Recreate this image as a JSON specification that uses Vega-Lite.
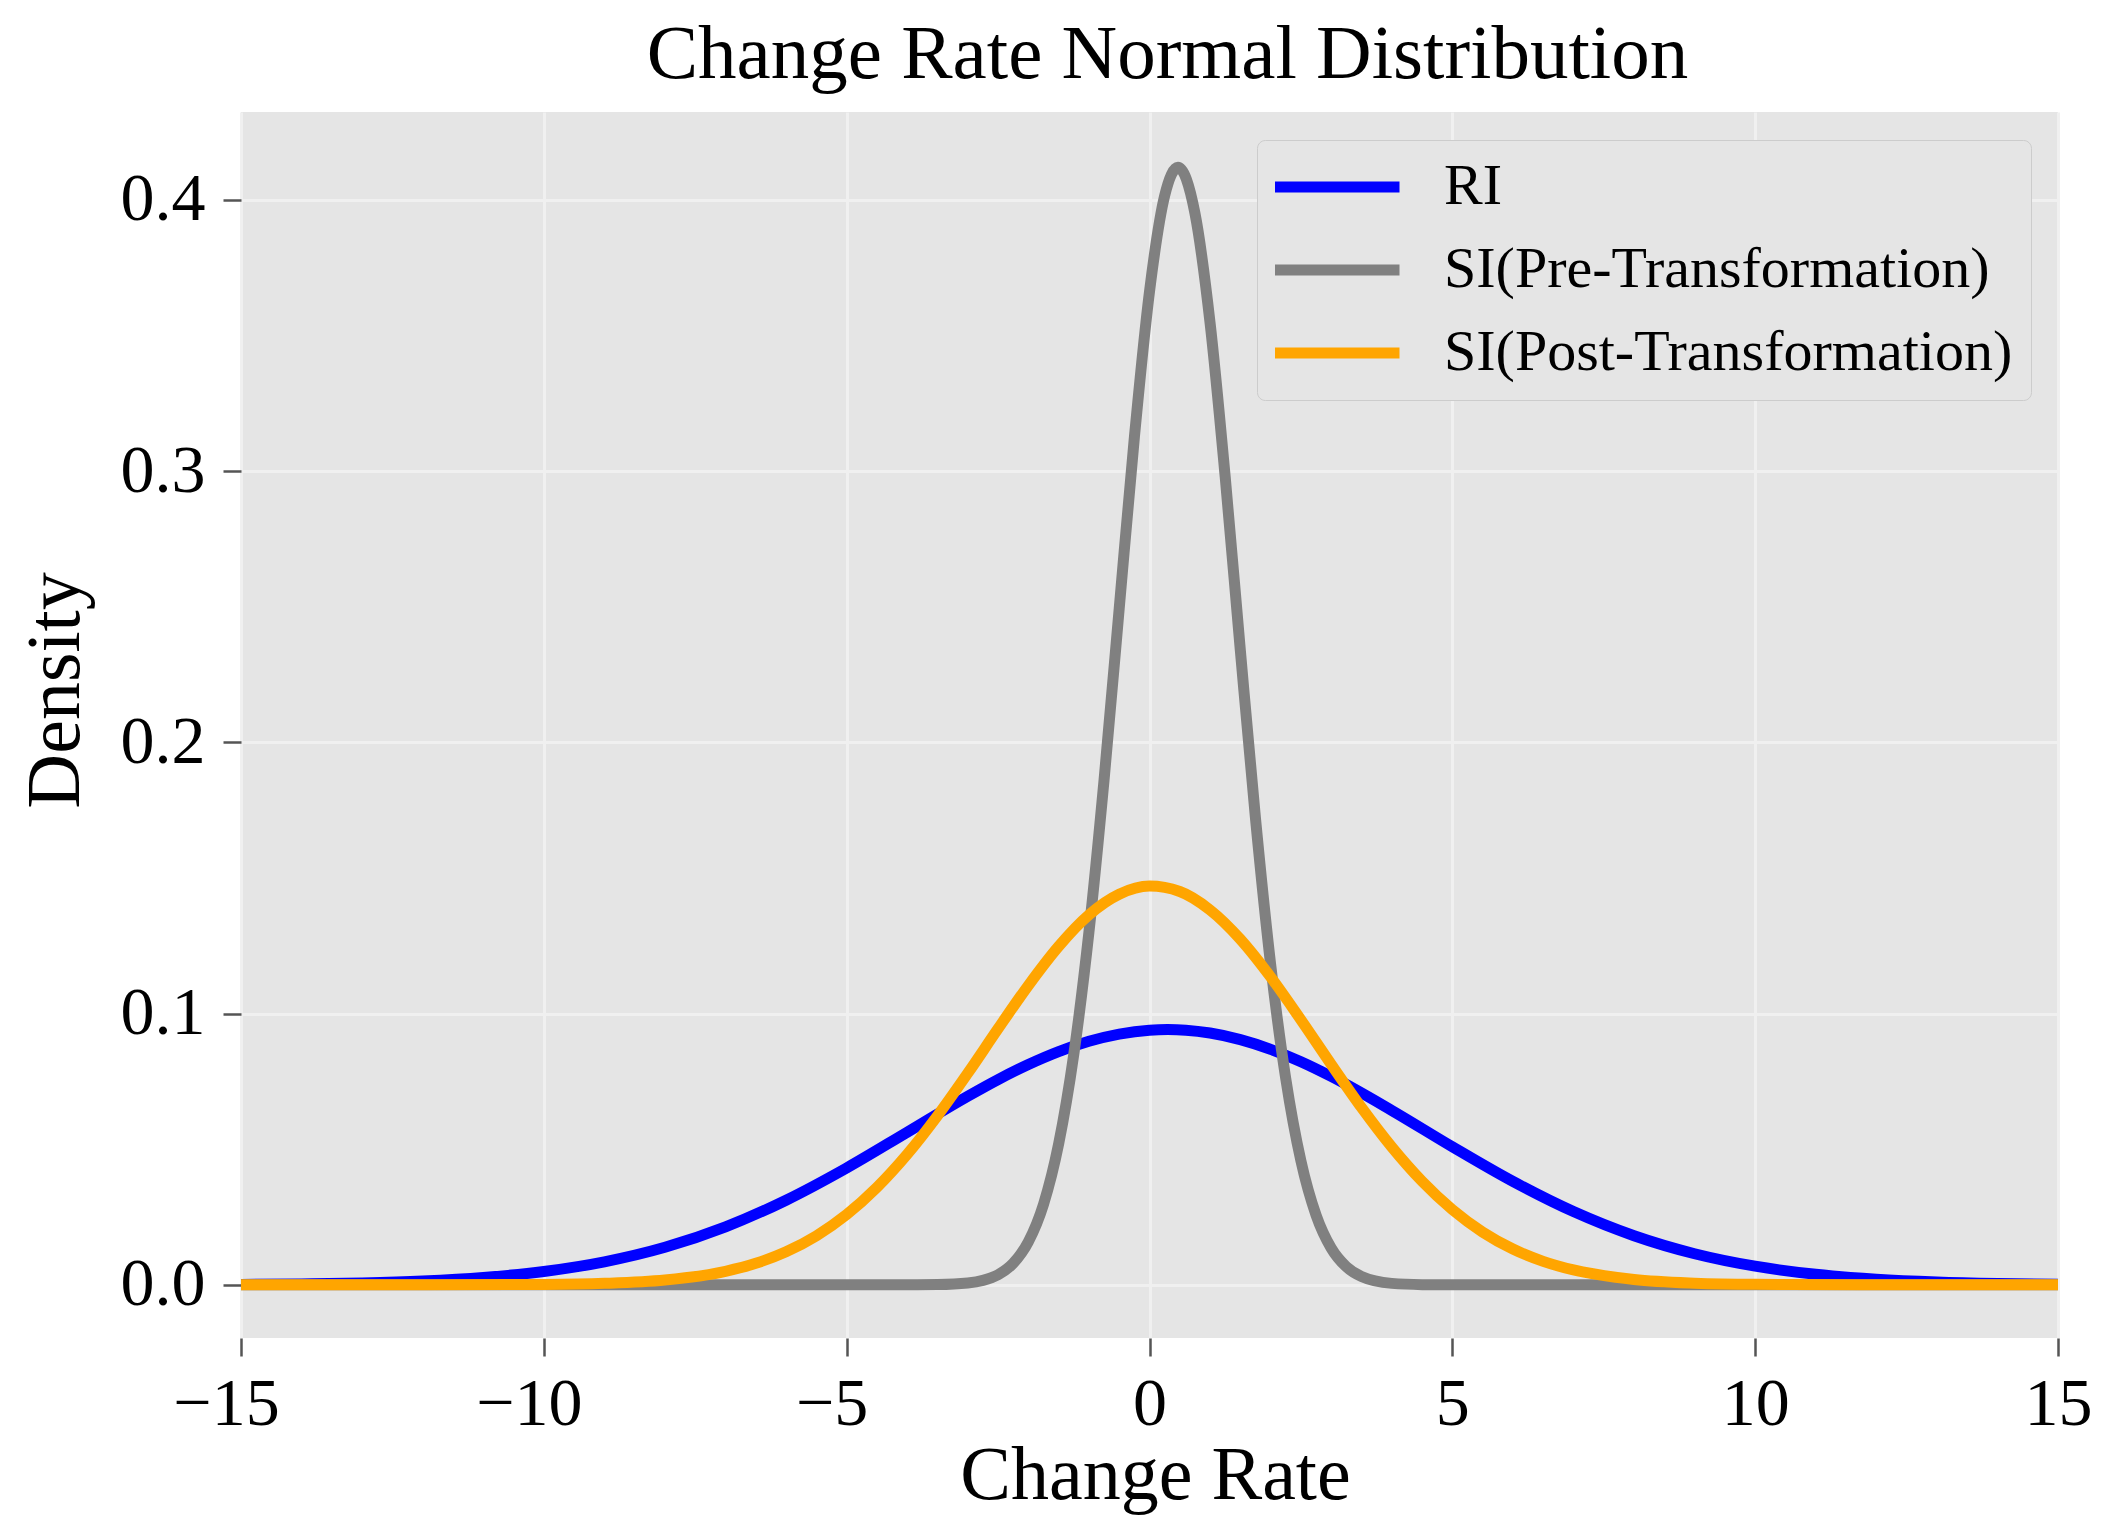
{
  "$schema": "https://vega.github.io/schema/vega-lite/v6.json",
  "description": "Change Rate Normal Distribution",
  "autosize": {"type": "none"},
  "width": 1817,
  "height": 1226,
  "padding": {"left": 241, "top": 112, "right": 62, "bottom": 195},
  "background": "white",
  "title": {
    "text": "Change Rate Normal Distribution",
    "fontSize": 77,
    "fontWeight": "normal",
    "color": "black",
    "anchor": "middle",
    "offset": 18,
    "dx": 18
  },
  "config": {
    "font": "Liberation Serif",
    "view": {"fill": "#e5e5e5", "stroke": null},
    "axis": {
      "domain": false,
      "grid": true,
      "gridColor": "#f0f0f0",
      "gridWidth": 3,
      "tickColor": "#555555",
      "tickWidth": 2.5,
      "tickSize": 18,
      "labelColor": "black",
      "labelFontSize": 68,
      "titleColor": "black",
      "titleFontSize": 76,
      "titleFontWeight": "normal"
    }
  },
  "data": {
    "values": [
      {"x": -15, "y": 0.00014, "s": "RI"},
      {"x": -14, "y": 0.000319, "s": "RI"},
      {"x": -13, "y": 0.000688, "s": "RI"},
      {"x": -12, "y": 0.001402, "s": "RI"},
      {"x": -11, "y": 0.002701, "s": "RI"},
      {"x": -10, "y": 0.004925, "s": "RI"},
      {"x": -9, "y": 0.008494, "s": "RI"},
      {"x": -8, "y": 0.01385, "s": "RI"},
      {"x": -7, "y": 0.02138, "s": "RI"},
      {"x": -6, "y": 0.03121, "s": "RI"},
      {"x": -5, "y": 0.04309, "s": "RI"},
      {"x": -4, "y": 0.05627, "s": "RI"},
      {"x": -3, "y": 0.06952, "s": "RI"},
      {"x": -2.5, "y": 0.07567, "s": "RI"},
      {"x": -2, "y": 0.08123, "s": "RI"},
      {"x": -1.5, "y": 0.08599, "s": "RI"},
      {"x": -1, "y": 0.08978, "s": "RI"},
      {"x": -0.5, "y": 0.09244, "s": "RI"},
      {"x": 0, "y": 0.09387, "s": "RI"},
      {"x": 0.3, "y": 0.0941, "s": "RI"},
      {"x": 0.6, "y": 0.09387, "s": "RI"},
      {"x": 1, "y": 0.09283, "s": "RI"},
      {"x": 1.5, "y": 0.09041, "s": "RI"},
      {"x": 2, "y": 0.08684, "s": "RI"},
      {"x": 2.5, "y": 0.08225, "s": "RI"},
      {"x": 3, "y": 0.07683, "s": "RI"},
      {"x": 4, "y": 0.06431, "s": "RI"},
      {"x": 5, "y": 0.05091, "s": "RI"},
      {"x": 6, "y": 0.03813, "s": "RI"},
      {"x": 7, "y": 0.02701, "s": "RI"},
      {"x": 8, "y": 0.0181, "s": "RI"},
      {"x": 9, "y": 0.01147, "s": "RI"},
      {"x": 10, "y": 0.006876, "s": "RI"},
      {"x": 11, "y": 0.003899, "s": "RI"},
      {"x": 12, "y": 0.002091, "s": "RI"},
      {"x": 13, "y": 0.001061, "s": "RI"},
      {"x": 14, "y": 0.000509, "s": "RI"},
      {"x": 15, "y": 0.000231, "s": "RI"},

      {"x": -15, "y": 0, "s": "SI(Pre-Transformation)"},
      {"x": -5, "y": 0, "s": "SI(Pre-Transformation)"},
      {"x": -4, "y": 0.0000097, "s": "SI(Pre-Transformation)"},
      {"x": -3.5, "y": 0.0000917, "s": "SI(Pre-Transformation)"},
      {"x": -3, "y": 0.000668, "s": "SI(Pre-Transformation)"},
      {"x": -2.75, "y": 0.001631, "s": "SI(Pre-Transformation)"},
      {"x": -2.5, "y": 0.003722, "s": "SI(Pre-Transformation)"},
      {"x": -2.25, "y": 0.007952, "s": "SI(Pre-Transformation)"},
      {"x": -2, "y": 0.01589, "s": "SI(Pre-Transformation)"},
      {"x": -1.75, "y": 0.02969, "s": "SI(Pre-Transformation)"},
      {"x": -1.5, "y": 0.05195, "s": "SI(Pre-Transformation)"},
      {"x": -1.25, "y": 0.085, "s": "SI(Pre-Transformation)"},
      {"x": -1, "y": 0.13, "s": "SI(Pre-Transformation)"},
      {"x": -0.75, "y": 0.1862, "s": "SI(Pre-Transformation)"},
      {"x": -0.5, "y": 0.2494, "s": "SI(Pre-Transformation)"},
      {"x": -0.25, "y": 0.3124, "s": "SI(Pre-Transformation)"},
      {"x": 0, "y": 0.3662, "s": "SI(Pre-Transformation)"},
      {"x": 0.25, "y": 0.4015, "s": "SI(Pre-Transformation)"},
      {"x": 0.47, "y": 0.412, "s": "SI(Pre-Transformation)"},
      {"x": 0.75, "y": 0.3951, "s": "SI(Pre-Transformation)"},
      {"x": 1, "y": 0.3547, "s": "SI(Pre-Transformation)"},
      {"x": 1.25, "y": 0.2978, "s": "SI(Pre-Transformation)"},
      {"x": 1.5, "y": 0.2339, "s": "SI(Pre-Transformation)"},
      {"x": 1.75, "y": 0.1719, "s": "SI(Pre-Transformation)"},
      {"x": 2, "y": 0.1181, "s": "SI(Pre-Transformation)"},
      {"x": 2.25, "y": 0.07597, "s": "SI(Pre-Transformation)"},
      {"x": 2.5, "y": 0.04569, "s": "SI(Pre-Transformation)"},
      {"x": 2.75, "y": 0.02571, "s": "SI(Pre-Transformation)"},
      {"x": 3, "y": 0.01354, "s": "SI(Pre-Transformation)"},
      {"x": 3.25, "y": 0.006666, "s": "SI(Pre-Transformation)"},
      {"x": 3.5, "y": 0.003071, "s": "SI(Pre-Transformation)"},
      {"x": 4, "y": 0.000534, "s": "SI(Pre-Transformation)"},
      {"x": 4.5, "y": 0.0000709, "s": "SI(Pre-Transformation)"},
      {"x": 5, "y": 0.0000072, "s": "SI(Pre-Transformation)"},
      {"x": 6, "y": 0, "s": "SI(Pre-Transformation)"},
      {"x": 15, "y": 0, "s": "SI(Pre-Transformation)"},

      {"x": -15, "y": 0, "s": "SI(Post-Transformation)"},
      {"x": -12, "y": 0.0000075, "s": "SI(Post-Transformation)"},
      {"x": -10, "y": 0.000152, "s": "SI(Post-Transformation)"},
      {"x": -9, "y": 0.000557, "s": "SI(Post-Transformation)"},
      {"x": -8, "y": 0.001785, "s": "SI(Post-Transformation)"},
      {"x": -7, "y": 0.004989, "s": "SI(Post-Transformation)"},
      {"x": -6.5, "y": 0.007923, "s": "SI(Post-Transformation)"},
      {"x": -6, "y": 0.01216, "s": "SI(Post-Transformation)"},
      {"x": -5.5, "y": 0.01806, "s": "SI(Post-Transformation)"},
      {"x": -5, "y": 0.02591, "s": "SI(Post-Transformation)"},
      {"x": -4.5, "y": 0.03593, "s": "SI(Post-Transformation)"},
      {"x": -4, "y": 0.04813, "s": "SI(Post-Transformation)"},
      {"x": -3.5, "y": 0.06234, "s": "SI(Post-Transformation)"},
      {"x": -3, "y": 0.07804, "s": "SI(Post-Transformation)"},
      {"x": -2.5, "y": 0.09442, "s": "SI(Post-Transformation)"},
      {"x": -2, "y": 0.1104, "s": "SI(Post-Transformation)"},
      {"x": -1.5, "y": 0.1248, "s": "SI(Post-Transformation)"},
      {"x": -1, "y": 0.1364, "s": "SI(Post-Transformation)"},
      {"x": -0.5, "y": 0.144, "s": "SI(Post-Transformation)"},
      {"x": 0, "y": 0.147, "s": "SI(Post-Transformation)"},
      {"x": 0.5, "y": 0.145, "s": "SI(Post-Transformation)"},
      {"x": 1, "y": 0.1382, "s": "SI(Post-Transformation)"},
      {"x": 1.5, "y": 0.1274, "s": "SI(Post-Transformation)"},
      {"x": 2, "y": 0.1135, "s": "SI(Post-Transformation)"},
      {"x": 2.5, "y": 0.0977, "s": "SI(Post-Transformation)"},
      {"x": 3, "y": 0.08129, "s": "SI(Post-Transformation)"},
      {"x": 3.5, "y": 0.06537, "s": "SI(Post-Transformation)"},
      {"x": 4, "y": 0.05082, "s": "SI(Post-Transformation)"},
      {"x": 4.5, "y": 0.03819, "s": "SI(Post-Transformation)"},
      {"x": 5, "y": 0.02773, "s": "SI(Post-Transformation)"},
      {"x": 5.5, "y": 0.01946, "s": "SI(Post-Transformation)"},
      {"x": 6, "y": 0.0132, "s": "SI(Post-Transformation)"},
      {"x": 6.5, "y": 0.008659, "s": "SI(Post-Transformation)"},
      {"x": 7, "y": 0.005487, "s": "SI(Post-Transformation)"},
      {"x": 8, "y": 0.00199, "s": "SI(Post-Transformation)"},
      {"x": 9, "y": 0.000629, "s": "SI(Post-Transformation)"},
      {"x": 10, "y": 0.000174, "s": "SI(Post-Transformation)"},
      {"x": 12, "y": 0.0000088, "s": "SI(Post-Transformation)"},
      {"x": 15, "y": 0, "s": "SI(Post-Transformation)"}
    ]
  },
  "mark": {"type": "line", "strokeWidth": 11, "interpolate": "monotone", "clip": true},
  "encoding": {
    "x": {
      "field": "x",
      "type": "quantitative",
      "scale": {"domain": [-15, 15], "nice": false, "zero": false},
      "axis": {
        "title": "Change Rate",
        "values": [-15, -10, -5, 0, 5, 10, 15],
        "format": "d",
        "labelPadding": 14,
        "labelFlush": false,
        "labelOffset": {"condition": {"test": "datum.value < 0", "value": -15}, "value": 0},
        "titleBaseline": "alphabetic",
        "titleY": 160,
        "titleX": 914
      }
    },
    "y": {
      "field": "y",
      "type": "quantitative",
      "scale": {"domain": [-0.0196, 0.4324], "nice": false, "zero": false},
      "axis": {
        "title": "Density",
        "values": [0, 0.1, 0.2, 0.3, 0.4],
        "format": ".1f",
        "labelPadding": 18,
        "titleAngle": 270,
        "titleBaseline": "alphabetic",
        "titleAlign": "center",
        "titleX": -163,
        "titleY": 578
      }
    },
    "color": {
      "field": "s",
      "type": "nominal",
      "scale": {
        "domain": ["RI", "SI(Pre-Transformation)", "SI(Post-Transformation)"],
        "range": ["#0000ff", "#808080", "#ffa500"]
      },
      "legend": {
        "title": null,
        "orient": "none",
        "legendX": 1016,
        "legendY": 28,
        "symbolType": "stroke",
        "symbolSize": 15876,
        "symbolStrokeWidth": 11,
        "symbolOffset": -7,
        "labelFontSize": 58,
        "labelColor": "black",
        "labelOffset": 39,
        "labelLimit": 1000,
        "clipHeight": 58,
        "padding": 18,
        "rowPadding": 25,
        "fillColor": "#e5e5e5",
        "strokeColor": "#cccccc",
        "cornerRadius": 8
      }
    }
  }
}
